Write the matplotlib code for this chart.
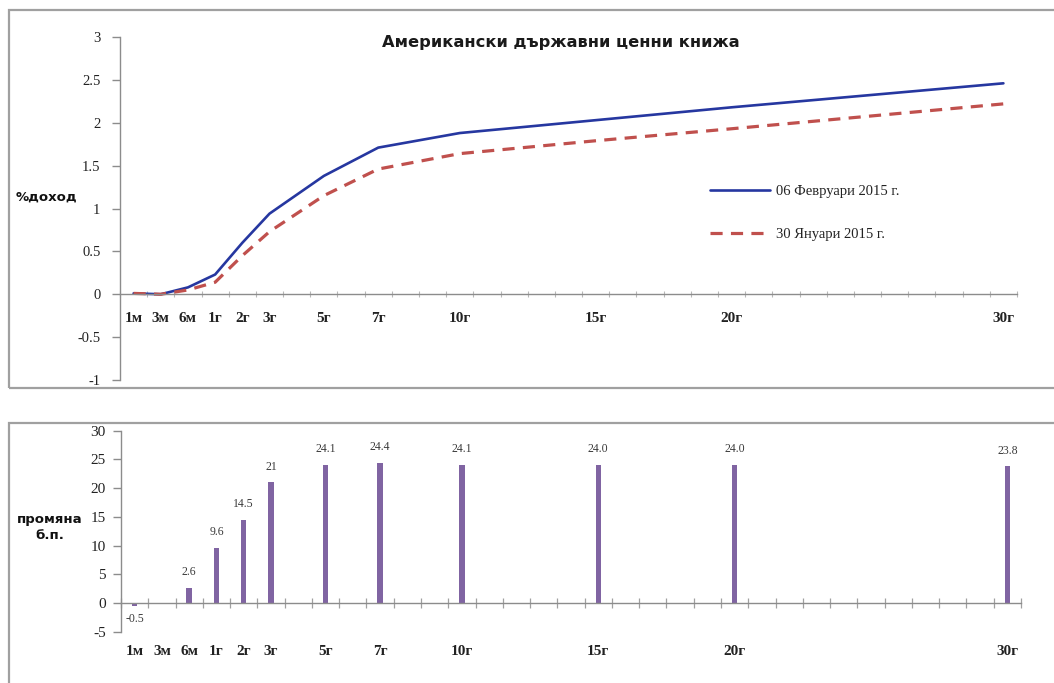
import matplotlib
matplotlib.use("Agg")
import matplotlib.pyplot as plt
import numpy as np
from matplotlib.patches import Rectangle

# Full category axis (Excel-style): 1м, 3м, 6м, 1г ... 30г
axis_categories = ['1м', '3м', '6м'] + [f'{i}г' for i in range(1, 31)]
# Maturities that carry data / labels
maturities = ['1м', '3м', '6м', '1г', '2г', '3г', '5г', '7г', '10г', '15г', '20г', '30г']
yield_feb06 = [0.01, 0.00, 0.08, 0.23, 0.60, 0.94, 1.38, 1.71, 1.88, 2.03, 2.18, 2.46]
yield_jan30 = [0.01, 0.00, 0.05, 0.14, 0.45, 0.73, 1.15, 1.46, 1.64, 1.79, 1.93, 2.22]
change_bp = [-0.5, np.nan, 2.6, 9.6, 14.5, 21.0, 24.1, 24.4, 24.1, 24.0, 24.0, 23.8]
change_labels = ['-0.5', '', '2.6', '9.6', '14.5', '21', '24.1', '24.4', '24.1', '24.0', '24.0', '23.8']
series_names = ['06 Февруари 2015 г.', '30 Януари 2015 г.']
title = 'Американски държавни ценни книжа'

W, H = 1054, 683
fig = plt.figure(figsize=(W / 100, H / 100), dpi=100)
fig.patch.set_facecolor('white')

def fx(px):
    return px / W

def fy(py):
    return 1 - py / H

# panel frames
fig.patches.append(Rectangle((fx(9), fy(388)), fx(1070), (388 - 10) / H,
                             transform=fig.transFigure, fill=False,
                             edgecolor='#a0a0a0', lw=1.6))
fig.patches.append(Rectangle((fx(9), fy(700)), fx(1070), (700 - 423) / H,
                             transform=fig.transFigure, fill=False,
                             edgecolor='#a0a0a0', lw=1.6))

pos = [axis_categories.index(m) for m in maturities]
n = len(axis_categories)
boundaries = np.arange(-0.5, n, 1.0)
axis_grey = '#8c8c8c'
serif = 'Liberation Serif'

# ---------------- top chart ----------------
ax1 = fig.add_axes([fx(120), fy(380), (1017 - 120) / W, (380 - 37) / H])
ax1.plot(pos, yield_feb06, color='#2637a0', lw=1.9, label=series_names[0], solid_capstyle='round')
ax1.plot(pos, yield_jan30, color='#c0504d', lw=2.3, linestyle=(0, (3.8, 2.6)), label=series_names[1])
ax1.set_xlim(-0.5, n - 0.5)
ax1.set_ylim(-1, 3)
ax1.set_yticks([-1, -0.5, 0, 0.5, 1, 1.5, 2, 2.5, 3])
ax1.set_yticklabels(['-1', '-0.5', '0', '0.5', '1', '1.5', '2', '2.5', '3'],
                    fontfamily=serif, fontsize=10.5, color='#222222')
for s in ['top', 'right']:
    ax1.spines[s].set_visible(False)
ax1.spines['bottom'].set_position(('data', 0))
for s in ['bottom', 'left']:
    ax1.spines[s].set_color(axis_grey)
    ax1.spines[s].set_linewidth(1.0)
ax1.tick_params(axis='y', direction='out', length=6, color=axis_grey, width=1, pad=8)
ax1.set_xticks(boundaries)
ax1.set_xticklabels([])
ax1.tick_params(axis='x', which='major', direction='inout', length=5, color='#b8b8b8', width=0.8)
ax1.set_xticks(pos, minor=True)
ax1.set_xticklabels(maturities, minor=True, fontfamily=serif, fontweight='bold',
                    fontsize=11, color='#222222')
ax1.tick_params(axis='x', which='minor', length=0, pad=13)
ax1.set_ylabel('%доход', rotation=0, fontsize=9.5, fontweight='bold',
               fontfamily='DejaVu Sans', color='#111111', ha='center', va='center')
ax1.yaxis.set_label_coords(-0.082, 0.533)
ax1.patch.set_alpha(0)

leg = ax1.legend(loc='upper left', bbox_to_anchor=(fx(697), fy(172)),
                 bbox_transform=fig.transFigure, frameon=False,
                 prop={'family': serif, 'size': 10.5}, handlelength=4.1,
                 handletextpad=0.4, labelspacing=2.0)
for t in leg.get_texts():
    t.set_color('#222222')

fig.text(fx(561), fy(43), title, ha='center', va='center', fontsize=11.7,
         fontweight='bold', fontfamily='DejaVu Sans', color='#1a1a1a')

# ---------------- bottom chart ----------------
ax2 = fig.add_axes([fx(121), fy(631.7), 900 / W, (631.7 - 430.7) / H])
bars = ax2.bar(pos, change_bp, width=0.2, color='#8064a2')
ax2.set_xlim(-0.5, n - 0.5)
ax2.set_ylim(-5, 30)
ax2.set_yticks([-5, 0, 5, 10, 15, 20, 25, 30])
ax2.set_yticklabels(['-5', '0', '5', '10', '15', '20', '25', '30'],
                    fontfamily=serif, fontsize=11, color='#222222')
for s in ['top', 'right']:
    ax2.spines[s].set_visible(False)
ax2.spines['bottom'].set_position(('data', 0))
for s in ['bottom', 'left']:
    ax2.spines[s].set_color(axis_grey)
    ax2.spines[s].set_linewidth(1.0)
ax2.tick_params(axis='y', direction='out', length=6, color=axis_grey, width=1, pad=5)
ax2.set_xticks(boundaries)
ax2.set_xticklabels([])
ax2.tick_params(axis='x', which='major', direction='inout', length=7, color='#a0a0a0', width=0.9)
ax2.set_xticks(pos, minor=True)
ax2.set_xticklabels(maturities, minor=True, fontfamily=serif, fontweight='bold',
                    fontsize=11, color='#222222')
ax2.tick_params(axis='x', which='minor', length=0, pad=30)
ax2.set_ylabel('промяна\nб.п.', rotation=0, fontsize=9.5, fontweight='bold',
               fontfamily='DejaVu Sans', color='#111111', ha='center', va='center',
               linespacing=1.3)
ax2.yaxis.set_label_coords(-0.079, 0.52)
ax2.patch.set_alpha(0)

for p, v, lab in zip(pos, change_bp, change_labels):
    if not lab:
        continue
    if v < 0:
        ax2.annotate(lab, (p, v), xytext=(0, -5), textcoords='offset points',
                     ha='center', va='top', fontsize=8.5, fontfamily=serif, color='#3a3a3a')
    else:
        ax2.annotate(lab, (p, v), xytext=(0, 7), textcoords='offset points',
                     ha='center', va='bottom', fontsize=8.5, fontfamily=serif, color='#3a3a3a')

fig.savefig('out.png', dpi=100, facecolor='white')
